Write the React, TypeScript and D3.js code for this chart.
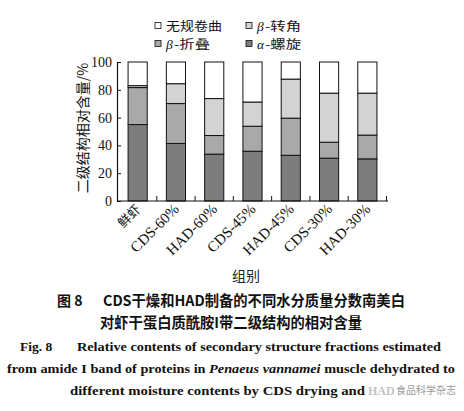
import { useEffect, useRef } from "react";
import * as d3 from "d3";

const groups = ["鲜虾", "CDS-60%", "HAD-60%", "CDS-45%", "HAD-45%", "CDS-30%", "HAD-30%"];
const alphaHelix = [55.0, 41.4, 33.7, 35.8, 32.9, 30.8, 30.3];
const betaSheet = [26.6, 28.7, 13.4, 18.0, 26.7, 11.5, 17.1];
const betaTurn = [1.4, 14.3, 26.6, 17.4, 28.1, 35.3, 30.2];
const randomCoil = [17.0, 15.6, 26.3, 28.8, 12.3, 22.4, 22.4];
const yTicks = [0, 20, 40, 60, 80, 100];

const serif = "'Liberation Serif', 'DejaVu Serif', serif";
const cjk = "'Noto Sans CJK SC', sans-serif";

export default function App() {
  const svgRef = useRef<SVGSVGElement>(null);

  useEffect(() => {
    if (!svgRef.current) return;
    const svg = d3.select(svgRef.current);
    svg.selectAll("*").remove();

    const keys = ["alpha", "sheet", "turn", "coil"];
    const fills: Record<string, string> = {
      alpha: "#7d7d7d",
      sheet: "#a9a9a9",
      turn: "#d3d3d3",
      coil: "#ffffff",
    };
    const rows = groups.map((g, i) => ({
      group: g,
      alpha: alphaHelix[i],
      sheet: betaSheet[i],
      turn: betaTurn[i],
      coil: randomCoil[i],
    }));

    const x = d3.scaleBand().domain(groups).range([118.5, 386.5]).paddingInner(0.5).paddingOuter(0.25);
    const y = d3.scaleLinear().domain([0, 100]).range([201, 62]);

    const stacked = d3.stack<any>().keys(keys)(rows);

    // Bars
    svg
      .append("g")
      .selectAll("g")
      .data(stacked)
      .join("g")
      .attr("fill", (d) => fills[d.key])
      .selectAll("rect")
      .data((d) => d)
      .join("rect")
      .attr("x", (d: any) => x(d.data.group)!)
      .attr("y", (d) => y(d[1]))
      .attr("width", x.bandwidth())
      .attr("height", (d) => y(d[0]) - y(d[1]))
      .attr("stroke", "#111")
      .attr("stroke-width", 1);

    // Y axis
    const yAxis = svg
      .append("g")
      .attr("transform", "translate(117,0)")
      .call(d3.axisLeft(y).tickValues(yTicks).tickSize(-4).tickPadding(5));
    yAxis.select(".domain").attr("stroke", "#111").attr("stroke-width", 1.2);
    yAxis.selectAll("line").attr("stroke", "#111");
    yAxis
      .selectAll("text")
      .attr("font-family", serif)
      .attr("font-size", 14)
      .attr("fill", "#111");

    // X axis (ticks at band boundaries, pointing inward)
    const step = x.step();
    const boundaries = groups.map((g) => x(g)! + x.bandwidth() + (step - x.bandwidth()) / 2);
    svg
      .append("line")
      .attr("x1", 117)
      .attr("x2", 388)
      .attr("y1", y(0))
      .attr("y2", y(0))
      .attr("stroke", "#111")
      .attr("stroke-width", 1.2);
    svg
      .append("g")
      .selectAll("line")
      .data(boundaries)
      .join("line")
      .attr("x1", (d) => d)
      .attr("x2", (d) => d)
      .attr("y1", y(0))
      .attr("y2", y(0) - 5)
      .attr("stroke", "#111");

    // X labels
    svg
      .append("g")
      .selectAll("text")
      .data(groups)
      .join("text")
      .attr("transform", (d) => `translate(${x(d)! + x.bandwidth() / 2 + 4},${y(0) + 9}) rotate(-45)`)
      .attr("text-anchor", "end")
      .attr("font-family", (d) => (d === "鲜虾" ? cjk : serif))
      .attr("font-size", (d) => (d === "鲜虾" ? 13 : 15))
      .attr("fill", "#111")
      .text((d) => d);

    // Axis titles
    svg
      .append("text")
      .attr("transform", "translate(88,128) rotate(-90)")
      .attr("text-anchor", "middle")
      .attr("font-family", cjk)
      .attr("font-size", 14)
      .attr("fill", "#111")
      .text("二级结构相对含量/%");

    svg
      .append("text")
      .attr("x", 246)
      .attr("y", 281)
      .attr("text-anchor", "middle")
      .attr("font-family", cjk)
      .attr("font-size", 14)
      .attr("fill", "#222")
      .text("组别");

    // Legend
    const legendItems = [
      { key: "coil", label: "无规卷曲", greek: "", x: 155, y: 26 },
      { key: "turn", label: "-转角", greek: "β", x: 246, y: 26 },
      { key: "sheet", label: "-折叠", greek: "β", x: 155, y: 44 },
      { key: "alpha", label: "-螺旋", greek: "α", x: 246, y: 44 },
    ];
    const legend = svg.append("g");
    legendItems.forEach((it) => {
      legend
        .append("rect")
        .attr("x", it.x)
        .attr("y", it.y - 3.5)
        .attr("width", 6)
        .attr("height", 6)
        .attr("fill", fills[it.key])
        .attr("stroke", "#111")
        .attr("stroke-width", 0.8);
      let tx = it.x + 11;
      if (it.greek) {
        legend
          .append("text")
          .attr("x", tx)
          .attr("y", it.y + 4.5)
          .attr("font-size", 13.5)
          .attr("font-family", serif)
          .attr("font-style", "italic")
          .attr("fill", "#111")
          .text(it.greek);
        tx += 8;
      }
      legend
        .append("text")
        .attr("x", tx)
        .attr("y", it.y + 4.5)
        .attr("font-size", 12)
        .attr("font-family", cjk)
        .attr("fill", "#111")
        .attr("textLength", it.greek ? 36 : 56)
        .attr("lengthAdjust", "spacingAndGlyphs")
        .text(it.label);
    });

    // Caption
    const cap = svg.append("g").attr("fill", "#111");
    cap
      .append("text")
      .attr("x", 57)
      .attr("y", 306)
      .attr("font-family", cjk)
      .attr("font-weight", "bold")
      .attr("font-size", 14)
      .text("图 8");
    cap
      .append("text")
      .attr("x", 103)
      .attr("y", 306)
      .attr("font-family", cjk)
      .attr("font-weight", "bold")
      .attr("font-size", 14.5)
      .attr("textLength", 302)
      .attr("lengthAdjust", "spacingAndGlyphs")
      .text("CDS干燥和HAD制备的不同水分质量分数南美白");
    cap
      .append("text")
      .attr("x", 100)
      .attr("y", 328)
      .attr("font-family", cjk)
      .attr("font-weight", "bold")
      .attr("font-size", 14.5)
      .attr("textLength", 262)
      .attr("lengthAdjust", "spacingAndGlyphs")
      .text("对虾干蛋白质酰胺I带二级结构的相对含量");
    cap
      .append("text")
      .attr("x", 20)
      .attr("y", 351)
      .attr("font-family", serif)
      .attr("font-weight", "bold")
      .attr("font-size", 13.5)
      .text("Fig. 8");
    cap
      .append("text")
      .attr("x", 77)
      .attr("y", 351)
      .attr("font-family", serif)
      .attr("font-weight", "bold")
      .attr("font-size", 13.5)
      .attr("textLength", 364)
      .attr("lengthAdjust", "spacingAndGlyphs")
      .text("Relative contents of secondary structure fractions estimated");
    const l4 = cap
      .append("text")
      .attr("x", 7)
      .attr("y", 373)
      .attr("font-family", serif)
      .attr("font-weight", "bold")
      .attr("font-size", 13.5)
      .attr("textLength", 448)
      .attr("lengthAdjust", "spacingAndGlyphs");
    l4.append("tspan").text("from amide I band of proteins in ");
    l4.append("tspan").attr("font-style", "italic").text("Penaeus vannamei");
    l4.append("tspan").text(" muscle dehydrated to");
    cap
      .append("text")
      .attr("x", 70)
      .attr("y", 395)
      .attr("font-family", serif)
      .attr("font-weight", "bold")
      .attr("font-size", 13.5)
      .attr("textLength", 295)
      .attr("lengthAdjust", "spacingAndGlyphs")
      .text("different moisture contents by CDS drying and");
    cap
      .append("text")
      .attr("x", 368)
      .attr("y", 395)
      .attr("font-family", serif)
      .attr("font-weight", "bold")
      .attr("font-size", 12)
      .attr("fill", "#c4c4c4")
      .text("HAD");
    svg
      .append("text")
      .attr("x", 396)
      .attr("y", 394)
      .attr("font-family", cjk)
      .attr("font-size", 10)
      .attr("fill", "#999")
      .text("食品科学杂志");
  }, []);

  return (
    <div style={{ width: 464, height: 411, background: "#fff" }}>
      <style>{`body{margin:0}`}</style>
      <svg ref={svgRef} width={464} height={411} style={{ display: "block" }}></svg>
    </div>
  );
}
